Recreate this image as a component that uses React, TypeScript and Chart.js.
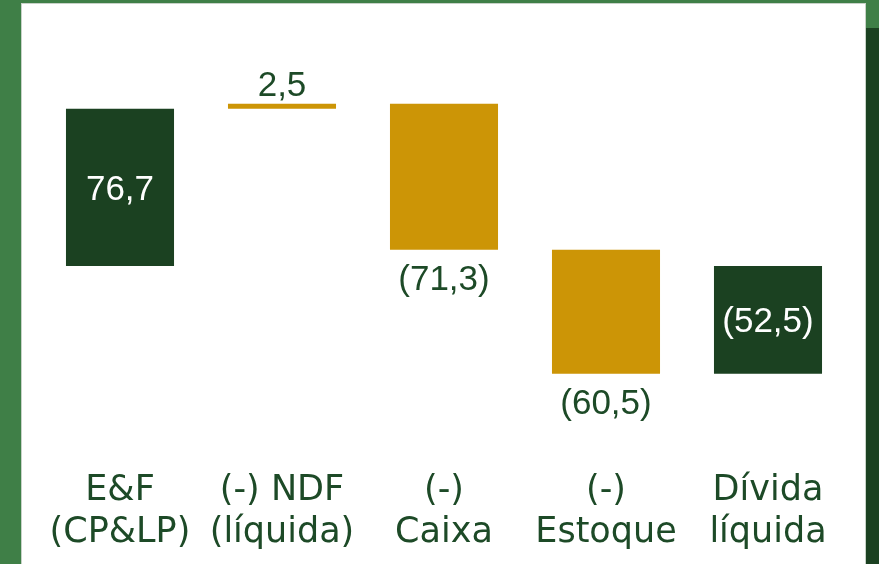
import React, { useEffect, useRef } from "react";
import { Chart, registerables } from "chart.js";

Chart.register(...registerables);

const categories: string[][] = [
  ["E&F", "(CP&LP)"],
  ["(-) NDF", "(líquida)"],
  ["(-)", "Caixa"],
  ["(-)", "Estoque"],
  ["Dívida", "líquida"],
];
const values: number[] = [76.7, 2.5, -71.3, -60.5, -52.5];
const kinds: string[] = ["total", "delta", "delta", "delta", "total"];
const labelPlacement: string[] = ["inside", "above", "below", "below", "inside"];

const DARK = "#1b4121";
const GOLD = "#cc9506";
const TEXT = "#1d4a27";
const CAT_FONT = "'DejaVu Sans', sans-serif";
const VAL_FONT = "'Liberation Sans', Arial, sans-serif";
const FSIZE = 35;

function fmt(v: number): string {
  const s = Math.abs(v).toFixed(1).replace(".", ",");
  return v < 0 ? `(${s})` : s;
}

function buildRanges(): [number, number][] {
  let run = 0;
  return values.map((v, i) => {
    if (kinds[i] === "total") {
      run = v;
      return [0, v] as [number, number];
    }
    const r: [number, number] = [run, run + v];
    run += v;
    return r;
  });
}

const valueLabels = {
  id: "valueLabels",
  afterDatasetsDraw(chart: any) {
    const ctx = chart.ctx;
    const meta = chart.getDatasetMeta(0);
    ctx.save();
    ctx.font = `${FSIZE}px ${VAL_FONT}`;
    ctx.textAlign = "center";
    ctx.textBaseline = "alphabetic";
    meta.data.forEach((bar: any, i: number) => {
      const top = Math.min(bar.y, bar.base);
      const bottom = Math.max(bar.y, bar.base);
      const txt = fmt(values[i]);
      const p = labelPlacement[i];
      let y: number;
      if (p === "inside") {
        ctx.fillStyle = "#ffffff";
        y = (top + bottom) / 2 + 12.5;
      } else if (p === "above") {
        ctx.fillStyle = TEXT;
        y = top - 8;
      } else {
        ctx.fillStyle = TEXT;
        y = bottom + 40;
      }
      ctx.fillText(txt, bar.x, y);
    });
    ctx.restore();
  },
};

export default function App() {
  const ref = useRef<HTMLCanvasElement | null>(null);

  useEffect(() => {
    if (!ref.current) return;
    const ranges = buildRanges();
    const chart = new Chart(ref.current, {
      type: "bar",
      data: {
        labels: categories,
        datasets: [
          {
            data: ranges as any,
            backgroundColor: kinds.map((k) => (k === "total" ? DARK : GOLD)),
            borderWidth: 0,
            barPercentage: 0.667,
            categoryPercentage: 1,
          },
        ],
      },
      options: {
        animation: false,
        responsive: false,
        maintainAspectRatio: false,
        layout: { padding: { left: 18, right: 17, top: 17, bottom: 0 } },
        plugins: { legend: { display: false }, tooltip: { enabled: false } },
        scales: {
          y: { display: false, min: -80, max: 120 },
          x: {
            grid: { display: false, drawTicks: false },
            border: { display: false },
            ticks: {
              color: TEXT,
              font: { family: CAT_FONT, size: FSIZE, lineHeight: 42 / FSIZE },
              padding: 40,
              maxRotation: 0,
              autoSkip: false,
            },
            afterFit: (scale: any) => {
              scale.height = 134;
              scale.paddingLeft = 0;
              scale.paddingRight = 0;
            },
          },
        },
      },
      plugins: [valueLabels],
    });
    return () => chart.destroy();
  }, []);

  return (
    <div style={{ position: "absolute", left: 0, top: 0, width: 879, height: 564, background: "#3f7f47", overflow: "hidden" }}>
      <div style={{ position: "absolute", left: 866, top: 28, width: 13, height: 536, background: DARK }} />
      <div
        style={{
          position: "absolute",
          left: 21,
          top: 3,
          width: 845,
          height: 561,
          background: "#ffffff",
          boxShadow: "inset 1px 1px 0 #c8d2c8, inset -1px 0 0 #c8d2c8",
        }}
      >
        <canvas ref={ref} width={845} height={561} style={{ display: "block", width: 845, height: 561 }} />
      </div>
    </div>
  );
}
